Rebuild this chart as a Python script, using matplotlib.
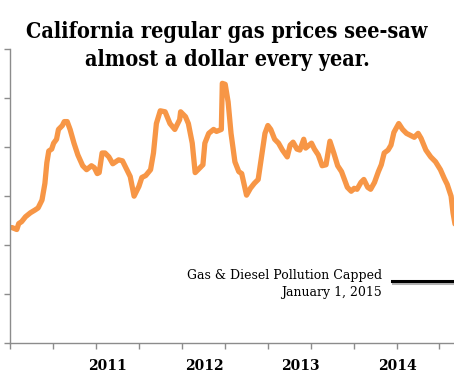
import matplotlib
matplotlib.use("Agg")
import matplotlib.pyplot as plt
import matplotlib.patheffects as pe
import numpy as np

# weekly-ish samples (decimal year, $/gal)
years = [
    2010.52, 2010.57, 2010.59, 2010.62, 2010.66, 2010.71, 2010.76, 2010.79, 2010.83, 2010.86,
    2010.88, 2010.90, 2010.93, 2010.95, 2010.98, 2011.00, 2011.04, 2011.06, 2011.09, 2011.12,
    2011.16, 2011.20, 2011.25, 2011.29, 2011.34, 2011.37, 2011.40, 2011.42, 2011.45, 2011.48,
    2011.52, 2011.56, 2011.59, 2011.62, 2011.66, 2011.69, 2011.74, 2011.78, 2011.83, 2011.86,
    2011.90, 2011.95, 2011.98, 2012.01, 2012.05, 2012.10, 2012.15, 2012.20, 2012.25, 2012.26,
    2012.31, 2012.34, 2012.38, 2012.41, 2012.44, 2012.49, 2012.51, 2012.55, 2012.60, 2012.63,
    2012.68, 2012.69, 2012.72, 2012.75, 2012.78, 2012.82, 2012.86, 2012.89, 2012.92, 2012.94,
    2012.98, 2013.02, 2013.06, 2013.10, 2013.13, 2013.16, 2013.19, 2013.23, 2013.27, 2013.31,
    2013.36, 2013.39, 2013.42, 2013.46, 2013.49, 2013.53, 2013.55, 2013.61, 2013.64, 2013.68,
    2013.72, 2013.76, 2013.80, 2013.84, 2013.88, 2013.92, 2013.95, 2013.98, 2014.02, 2014.05,
    2014.08, 2014.12, 2014.15, 2014.19, 2014.22, 2014.26, 2014.30, 2014.33, 2014.36, 2014.40,
    2014.43, 2014.46, 2014.51, 2014.55, 2014.59, 2014.63, 2014.67, 2014.71, 2014.74, 2014.79,
    2014.84, 2014.89, 2014.94, 2014.98, 2015.01, 2015.05, 2015.07, 2015.12,
]
prices = [
    3.18, 3.16, 3.22, 3.24, 3.29, 3.33, 3.36, 3.38, 3.46, 3.63,
    3.84, 3.96, 3.98, 4.04, 4.08, 4.18, 4.22, 4.26, 4.26, 4.18,
    4.04, 3.92, 3.81, 3.77, 3.81, 3.79, 3.73, 3.74, 3.94, 3.94,
    3.90, 3.83, 3.85, 3.87, 3.86, 3.80, 3.70, 3.50, 3.60, 3.69,
    3.71, 3.77, 3.94, 4.24, 4.37, 4.36, 4.24, 4.18, 4.28, 4.36,
    4.31, 4.24, 4.04, 3.74, 3.77, 3.82, 4.04, 4.14, 4.18, 4.16,
    4.18, 4.65, 4.64, 4.46, 4.14, 3.85, 3.75, 3.73, 3.60, 3.51,
    3.58, 3.63, 3.67, 3.94, 4.14, 4.22, 4.18, 4.08, 4.04, 3.97,
    3.90, 4.02, 4.05, 3.98, 3.97, 4.08, 3.99, 4.04, 3.98, 3.92,
    3.81, 3.82, 4.06, 3.94, 3.81, 3.75, 3.67, 3.59, 3.55, 3.58,
    3.57, 3.64, 3.67, 3.59, 3.57, 3.64, 3.75, 3.82, 3.94, 3.97,
    4.02, 4.15, 4.24, 4.18, 4.14, 4.12, 4.10, 4.14, 4.09, 3.97,
    3.90, 3.85, 3.77, 3.68, 3.62, 3.50, 3.33, 3.05,
]
year_labels = ["2011", "2012", "2013", "2014"]
year_label_pos = [2011.5, 2012.5, 2013.5, 2014.5]

title = "California regular gas prices see-saw\nalmost a dollar every year."
note = "Gas & Diesel Pollution Capped\nJanuary 1, 2015"

fig = plt.figure(figsize=(4.54, 3.79), dpi=100)
ax = fig.add_axes([10 / 454, 1 - 343.3 / 379, 444 / 454, 294.3 / 379])

ax.plot(years, prices, color="#F79646", lw=3.8, solid_capstyle="round",
        solid_joinstyle="round")

ax.set_xlim(2010.5, 2015.08)
ax.set_ylim(2.0, 5.0)

grey = "#8c8c8c"
for side in ["top", "right"]:
    ax.spines[side].set_visible(False)
for side in ["left", "bottom"]:
    ax.spines[side].set_color(grey)
    ax.spines[side].set_linewidth(1.0)

ax.set_yticks(np.arange(2.0, 5.01, 0.5))
ax.set_yticklabels([])
ax.set_xticks(np.arange(2010.5, 2015.0, 0.443))
ax.set_xticklabels([])
ax.tick_params(axis="both", which="major", direction="out", length=4,
               color=grey, width=1.0)

ax.set_xticks(year_label_pos, minor=True)
ax.set_xticklabels(year_labels, minor=True, fontfamily="DejaVu Serif",
                   fontweight="bold", fontsize=10)
ax.tick_params(axis="x", which="minor", length=0, pad=11)

fig.text(0.5, 1 - 46 / 379, title, ha="center", va="center",
         fontfamily="DejaVu Serif", fontstretch="condensed", fontweight="bold",
         fontsize=15.5, linespacing=1.4)

ax.text(2014.335, 2.60, note, ha="right", va="center", fontfamily="DejaVu Serif",
        fontsize=9, linespacing=1.4)
ax.plot([2014.44, 2015.2], [2.64, 2.64], color="black", lw=2.2, clip_on=False,
        path_effects=[pe.SimpleLineShadow(offset=(0.5, -1.5), alpha=0.3),
                      pe.Normal()])

fig.savefig("out.png", dpi=100)
